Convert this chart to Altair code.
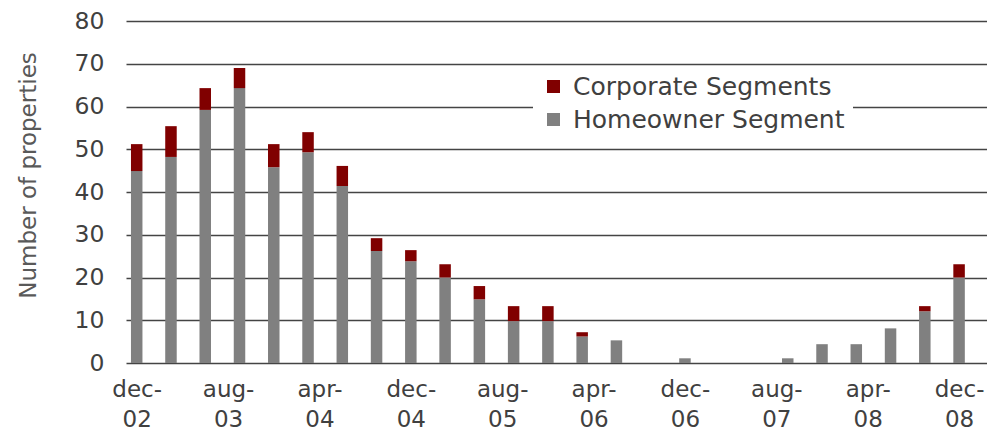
import altair as alt
import pandas as pd

# Quarterly observation labels (month-yy)
quarters = ["dec-02", "mar-03", "jun-03", "sep-03", "dec-03", "mar-04", "jun-04", "sep-04",
            "dec-04", "mar-05", "jun-05", "sep-05", "dec-05", "mar-06", "jun-06", "sep-06",
            "dec-06", "mar-07", "jun-07", "sep-07", "dec-07", "mar-08", "jun-08", "sep-08",
            "dec-08", "mar-09"]
homeowner = [44.9, 48.2, 59.2, 64.3, 45.8, 49.3, 41.4, 26.2, 23.8, 20.0, 14.9, 9.8, 9.8,
             6.2, 5.3, 0, 1.1, 0, 0, 1.1, 4.4, 4.4, 8.1, 12.1, 20.0, 26.4]
corporate = [6.3, 7.2, 5.1, 4.7, 5.4, 4.7, 4.7, 3.0, 2.6, 3.1, 3.1, 3.5, 3.5,
             1.0, 0, 0, 0, 0, 0, 0, 0, 0, 0, 1.2, 3.1, 0.9]
series = ["Corporate Segments", "Homeowner Segment"]
colors = ["#800000", "#808080"]
tick_labels = ["dec-02", "aug-03", "apr-04", "dec-04", "aug-05", "apr-06", "dec-06",
               "aug-07", "apr-08", "dec-08"]
y_ticks = [0, 10, 20, 30, 40, 50, 60, 70, 80]

MONTHS = {"jan": 1, "feb": 2, "mar": 3, "apr": 4, "may": 5, "jun": 6, "jul": 7,
          "aug": 8, "sep": 9, "oct": 10, "nov": 11, "dec": 12}


def month_index(lbl):
    m, y = lbl.split("-")
    return (2000 + int(y)) * 12 + MONTHS[m] - (2002 * 12 + 12)


rows = []
for q, h, c in zip(quarters, homeowner, corporate):
    mi = month_index(q)
    rows.append({"month": mi, "period": q, "series": series[1], "value": h, "rank": 0})
    rows.append({"month": mi, "period": q, "series": series[0], "value": c, "rank": 1})
df = pd.DataFrame(rows)

tick_vals = [month_index(t) for t in tick_labels]
arr = ",".join("['%s-','%s']" % tuple(t.split("-")) for t in tick_labels)
label_expr = "[%s][indexof([%s], datum.value)]" % (arr, ",".join(str(v) for v in tick_vals))

FONT = "DejaVu Sans"
PLOT_W = 861
PX_PER_MONTH = 11.556

chart = alt.Chart(df).mark_bar(size=11.5, clip=True).encode(
    x=alt.X("month:Q",
            scale=alt.Scale(domain=[-0.5, -0.5 + PLOT_W / PX_PER_MONTH], nice=False, zero=False),
            axis=alt.Axis(values=tick_vals, labelExpr=label_expr, title=None, grid=False,
                          domain=False, ticks=False, tickSize=0, labelFontSize=23,
                          labelColor="#404040", labelFont=FONT, labelPadding=15,
                          labelLineHeight=30, labelFlush=False, labelOverlap=False)),
    y=alt.Y("value:Q", stack="zero",
            scale=alt.Scale(domain=[0, 80], nice=False),
            axis=alt.Axis(values=y_ticks, title="Number of properties", grid=True,
                          gridColor="#444444", gridWidth=1.3, domain=False, ticks=False,
                          tickSize=0, labelFontSize=23.5, labelColor="#404040", labelFont=FONT,
                          labelPadding=22, titleFont=FONT, titleFontSize=23,
                          titleFontWeight="normal", titleColor="#595959",
                          titleX=-98, titleY=154, titleAngle=-90, titleAlign="center",
                          titleBaseline="middle")),
    color=alt.Color("series:N",
                    scale=alt.Scale(domain=series, range=colors),
                    legend=alt.Legend(title=None, orient="none", legendX=407, legendY=45,
                                      fillColor="white", padding=8, rowPadding=7,
                                      symbolType="square", symbolSize=169,
                                      symbolStrokeWidth=0, symbolOpacity=1,
                                      labelFontSize=25, labelFont=FONT,
                                      labelColor="#404040", labelOffset=7, labelLimit=400)),
    order=alt.Order("rank:Q"),
).properties(
    width=PLOT_W, height=342,
    autosize=alt.AutoSizeParams(type="none"),
    padding={"left": 118, "top": 13, "right": 0, "bottom": 79},
).configure_view(stroke=None)

chart.save("out.html", embed_options={"renderer": "svg", "actions": False})
